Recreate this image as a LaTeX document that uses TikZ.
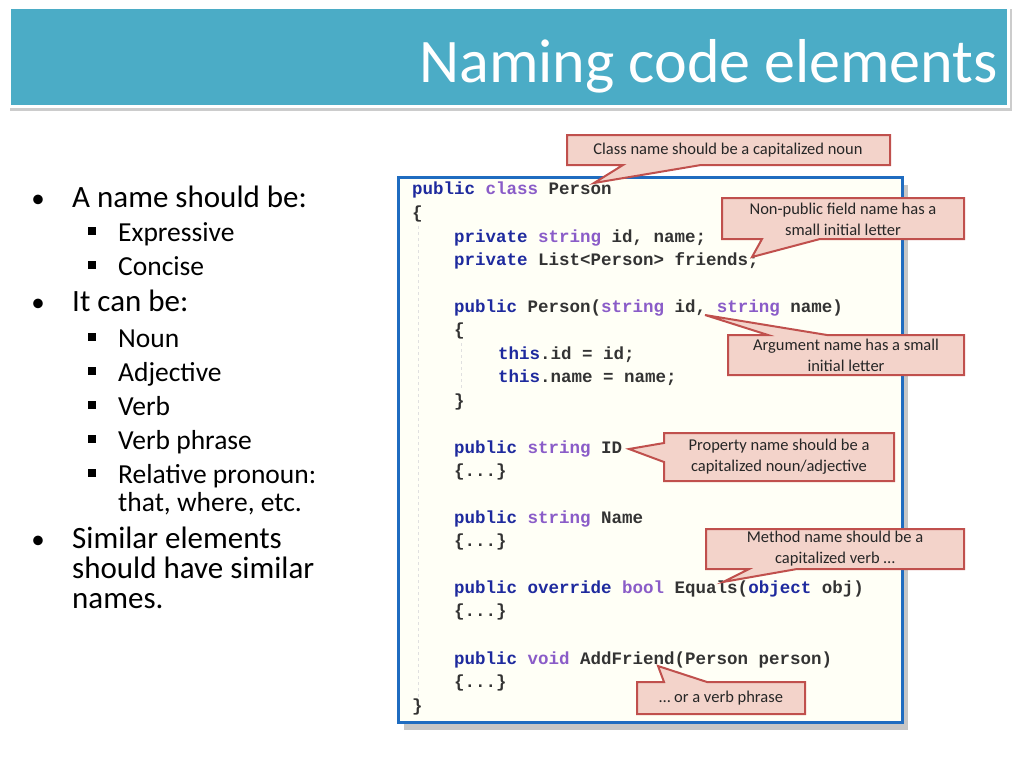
\documentclass[tikz,border=0pt]{standalone}
\usepackage{fontspec}
\setmainfont{Carlito}
\setmonofont{Liberation Mono}
\usetikzlibrary{shadows}
\definecolor{teal}{HTML}{4BACC6}
\definecolor{kw}{HTML}{1E2A9E}
\definecolor{ty}{HTML}{8A5CC8}
\definecolor{idc}{HTML}{333333}
\definecolor{cfill}{HTML}{F3D3CA}
\definecolor{cdraw}{HTML}{C0504D}
\definecolor{codebg}{HTML}{FFFFF6}
\definecolor{codeborder}{HTML}{1F6CC0}
\newcommand{\K}[1]{\textcolor{kw}{#1}}
\newcommand{\T}[1]{\textcolor{ty}{#1}}
\tikzset{
  callout/.style={fill=cfill,draw=cdraw,line width=2pt,line join=miter},
  ctext/.style={align=center,font=\fontsize{16.5}{21}\selectfont,text=black!85},
  code/.style={anchor=base west,inner sep=0,font=\fontsize{17.5}{20}\ttfamily\bfseries,text=idc},
  bul/.style={anchor=base west,inner sep=0,font=\fontsize{31}{34}\selectfont},
  sub/.style={anchor=base west,inner sep=0,font=\fontsize{27.5}{30}\selectfont},
}
\begin{document}
\begin{tikzpicture}[x=1pt,y=-1pt]
\useasboundingbox (0,0) rectangle (1024,768);
% title bar
\fill[white,drop shadow={shadow xshift=2pt,shadow yshift=-3pt,opacity=0.4}] (8,6) rectangle (1010,108);
\fill[teal] (11,9) rectangle (1007,105);
\node[anchor=base east,inner sep=0,text=white,font=\fontsize{62}{64}\selectfont] (title) at (998,82) {Naming code elements};
% bullets
\node[bul] (b1) at (72,207) {A name should be:};
\node[bul] (b2) at (72,311) {It can be:};
\node[bul] (b3) at (72,548) {Similar elements};
\node[bul] (b3b) at (72,578) {should have similar};
\node[bul] (b3c) at (72,608) {names.};
\foreach \y in {207,311,548} \node[anchor=base,inner sep=0,font=\fontsize{27}{30}\selectfont] at (38,\y) {•};
\foreach \y/\t [count=\i] in {241/Expressive,275/Concise,347/Noun,381/Adjective,415/Verb,449/Verb phrase,483/Relative pronoun:}
  {\node[sub] (s\i) at (118,\y) {\t};
   \fill (88,\y-14) rectangle (96,\y-6);}
\node[sub] (s8) at (118,511) {that, where, etc.};
% code box
\fill[codebg,draw=codeborder,line width=3pt,drop shadow={shadow xshift=6pt,shadow yshift=-8pt,opacity=0.45}] (398,177) rectangle (902,722);
\draw[black!12,dashed] (418,226) -- (418,700);
\draw[black!12,dashed] (461,343) -- (461,388);
\node[code] (l1) at (412,194) {\K{public} \T{class} Person};
\node[code] (l2) at (412,218) {\{};
\node[code] (l3) at (454,242) {\K{private} \T{string} id, name;};
\node[code] (l4) at (454,265) {\K{private} List<Person> friends;};
\node[code] (l5) at (454,312) {\K{public} Person(\T{string} id, \T{string} name)};
\node[code] (l6) at (454,335) {\{};
\node[code] (l7) at (498,359) {\K{this}.id = id;};
\node[code] (l8) at (498,382) {\K{this}.name = name;};
\node[code] (l9) at (454,406) {\}};
\node[code] (l10) at (454,453) {\K{public} \T{string} ID};
\node[code] (l11) at (454,476) {\{...\}};
\node[code] (l12) at (454,523) {\K{public} \T{string} Name};
\node[code] (l13) at (454,546) {\{...\}};
\node[code] (l14) at (454,593) {\K{public} \K{override} \T{bool} Equals(\K{object} obj)};
\node[code] (l15) at (454,616) {\{...\}};
\node[code] (l16) at (454,664) {\K{public} \T{void} AddFriend(Person person)};
\node[code] (l17) at (454,687) {\{...\}};
\node[code] (l18) at (412,711) {\}};
% callouts
\coordinate (t1) at (594,183);
\draw[callout] (567,135) -- (890,135) -- (890,165) -- (701,165) -- (t1) -- (623,165) -- (567,165) -- cycle;
\node[ctext] (c1) at (728,150) {Class name should be a capitalized noun};
\coordinate (t2) at (752,257);
\draw[callout] (722,198) -- (964,198) -- (964,239) -- (820,239) -- (t2) -- (762,239) -- (722,239) -- cycle;
\node[ctext] (c2) at (843,219) {Non-public field name has a\\small initial letter};
\coordinate (t3) at (705,315);
\draw[callout] (728,335) -- (768,335) -- (t3) -- (827,335) -- (964,335) -- (964,375) -- (728,375) -- cycle;
\node[ctext] (c3) at (846,355) {Argument name has a small\\initial letter};
\coordinate (t4) at (629,449);
\draw[callout] (664,433) -- (894,433) -- (894,481) -- (664,481) -- (664,462) -- (t4) -- (664,443) -- cycle;
\node[ctext] (c4) at (779,457) {Property name should be a\\capitalized noun/adjective};
\coordinate (t5) at (723,582);
\draw[callout] (706,529) -- (964,529) -- (964,569) -- (797,569) -- (t5) -- (749,569) -- (706,569) -- cycle;
\node[ctext] (c5) at (835,549) {Method name should be a\\capitalized verb …};
\coordinate (t6) at (658,666);
\draw[callout] (637,682) -- (664,682) -- (t6) -- (707,682) -- (805,682) -- (805,714) -- (637,714) -- cycle;
\node[ctext] (c6) at (721,698) {… or a verb phrase};
\end{tikzpicture}
\end{document}
